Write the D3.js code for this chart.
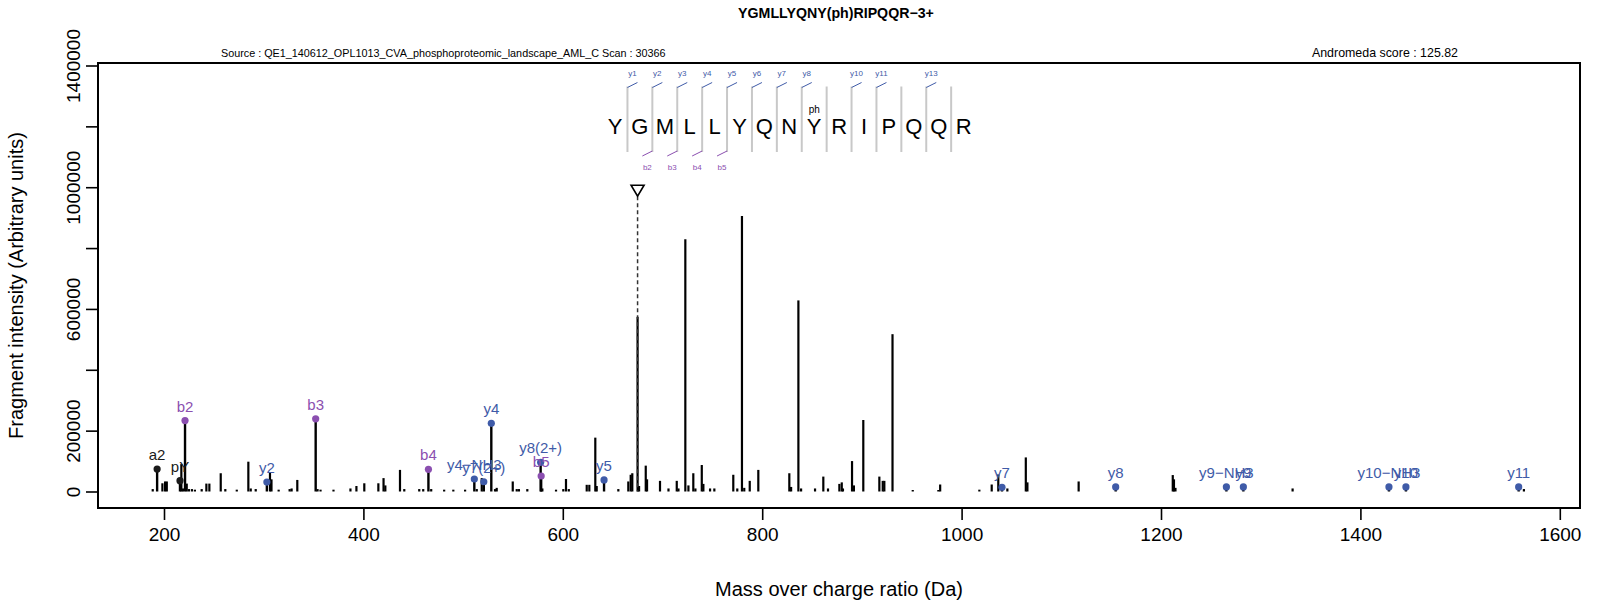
<!DOCTYPE html>
<html lang="en">
<head>
    <meta charset="UTF-8">
    <title>Spectrum</title>
    <script src="https://cdn.jsdelivr.net/npm/d3@7"></script>
    <style>
        body { margin: 0; background: #fff; }
        svg { font-family: "Liberation Sans", Arial, sans-serif; }
    </style>
</head>
<body>
<svg width="1599" height="609"></svg>
<script>
    // peaks: m/z and intensity
    var peakMz = [188.7, 198.4, 201.1, 202.8, 217.4, 219.0, 222.8, 225, 228, 231, 237.8, 242.5, 245.5,
        256.9, 261.5, 273, 284.6, 287, 292, 306.3, 307.8, 315, 326, 328, 333.7, 354, 357, 370, 387, 393,
        400.9, 415, 420.2, 422, 436.7, 441, 456, 460, 468, 481, 490.2, 502, 513.7, 518.7, 532, 533.7,
        549.8, 553.8, 556, 564.4, 579.5, 593.2, 600.5, 603.2, 606, 624, 626.6, 632.6, 634, 655.7, 665.7,
        668.1, 669.7, 675.0, 676.5, 683.2, 684.5, 697.5, 706, 714.3, 716, 722.9, 726, 730.9, 733, 739.4,
        741, 747.7, 752, 771, 775, 779.7, 782, 787.5, 796.1, 827.2, 829, 836.3, 839, 853, 861.3, 866,
        877.4, 879.8, 881, 890.1, 892, 901.4, 917.5, 920.9, 922.5, 930.7, 951, 976.7, 978.5, 1017.8,
        1030.2, 1036.8, 1045.9, 1064.4, 1066, 1117.4, 1211.8, 1213, 1214.5, 1332, 1564];
    var peakInt = [8000, 27000, 33000, 33000, 90000, 10000, 26000, 8000, 8000, 6000, 8000, 26000, 26000,
        60000, 8000, 6000, 98000, 10000, 8000, 63000, 40000, 6000, 8000, 10000, 38000, 8000, 6000, 6000, 10000, 18000,
        27000, 27000, 44000, 20000, 71000, 8000, 8000, 8000, 8000, 6000, 6000, 6000, 8000, 44000, 8000, 12000,
        33000, 8000, 8000, 8000, 10000, 6000, 8000, 41000, 8000, 22000, 22000, 177000, 18000, 8000, 33000,
        55000, 60000, 574000, 18000, 85000, 40000, 35000, 10000, 35000, 10000, 829000, 20000, 60000, 10000, 87000,
        25000, 10000, 10000, 55000, 10000, 905000, 12000, 35000, 71000, 60000, 15000, 628000, 10000, 10000, 49000, 10000,
        25000, 30000, 10000, 100000, 20000, 235000, 49000, 35000, 35000, 517000, 5000, 5000, 23000, 6000,
        23000, 56000, 10000, 112000, 30000, 33000, 54000, 40000, 12000, 10000, 8000];

    // annotated fragment ions
    var ionNames = ["a2", "pY", "b2", "y2", "b3", "b4", "y4\u2212NH3", "y7(2+)", "y4", "y8(2+)", "b5", "y5",
        "y7", "y8", "y9\u2212NH3", "y9", "y10\u2212NH3", "y10", "y11"];
    var ionMz = [193.10, 216.04, 221.09, 303.18, 352.13, 465.22, 511.26, 520.75, 528.29, 577.78, 578.30, 641.37,
        1040.50, 1154.55, 1265.58, 1282.60, 1428.64, 1445.66, 1558.75];
    var ionInt = [74000, 35500, 233000, 31000, 239000, 73000, 41000, 32000, 224000, 96000, 51000, 38000,
        14000, 15000, 15000, 15000, 15000, 15000, 15000];
    var ionType = ["o", "o", "b", "y", "b", "b", "y", "y", "y", "y", "b", "y", "y", "y", "y", "y", "y", "y", "y"];

    var precursorMz = 675.0;
    var precursorMark = 990000;

    var sequence = ["Y", "G", "M", "L", "L", "Y", "Q", "N", "Y", "R", "I", "P", "Q", "Q", "R"];
    var yMarks = [1, 2, 3, 4, 5, 6, 7, 8, 10, 11, 13];   // cleavage sites carrying a y tag
    var bMarks = [2, 3, 4, 5];
    var phSite = 9;

    var xTicks = [200, 400, 600, 800, 1000, 1200, 1400, 1600];
    var yTicks = [0, 200000, 400000, 600000, 800000, 1000000, 1200000, 1400000];
    var yLabelled = [0, 200000, 600000, 1000000, 1400000];   // R drops the ones that would overlap

    var title = "YGMLLYQNY(ph)RIPQQR\u22123+";
    var source = "Source : QE1_140612_OPL1013_CVA_phosphoproteomic_landscape_AML_C  Scan : 30366";
    var score = "Andromeda score : 125.82";

    var colors = { b: "#8b4fb0", y: "#3f5ba8", o: "#1a1a1a" };

    // note: "top" is taken by window.top, so prefix these
    var boxL = 98, boxR = 1580, boxT = 63, boxB = 508;

    var x = d3.scaleLinear().domain([200, 1600]).range([164.0, 1559.8]);
    var y = d3.scaleLinear().domain([0, 1400000]).range([491.5, 65.5]);

    var svg = d3.select("svg");

    // title + header lines
    svg.append("text").attr("x", 836).attr("y", 18).attr("text-anchor", "middle")
        .attr("font-size", 14.2).attr("font-weight", "bold").text(title);
    svg.append("text").attr("x", 221).attr("y", 57).attr("font-size", 10.8).text(source);
    svg.append("text").attr("x", 1458).attr("y", 57).attr("text-anchor", "end")
        .attr("font-size", 12.4).text(score);

    // peaks
    var peaks = peakMz.map(function(d, i) { return [d, peakInt[i]]; });
    svg.append("g").selectAll("line")
        .data(peaks)
        .join("line")
        .attr("x1", function(d) { return x(d[0]); })
        .attr("x2", function(d) { return x(d[0]); })
        .attr("y1", y(0))
        .attr("y2", function(d) { return y(d[1]); })
        .attr("stroke", "#000")
        .attr("stroke-width", 2.2);

    // precursor
    svg.append("line")
        .attr("x1", x(precursorMz)).attr("x2", x(precursorMz))
        .attr("y1", y(precursorMark) + 6).attr("y2", y(0))
        .attr("stroke", "#333").attr("stroke-width", 1.5).attr("stroke-dasharray", "4,3");
    var px = x(precursorMz), py = y(precursorMark);
    svg.append("path")
        .attr("d", "M" + (px - 6.5) + "," + (py - 5) + "L" + (px + 6.5) + "," + (py - 5) + "L" + px + "," + (py + 6) + "Z")
        .attr("fill", "#fff").attr("stroke", "#000").attr("stroke-width", 1.6);

    // annotated ions
    var ions = ionNames.map(function(d, i) {
        return { name: d, mz: ionMz[i], v: ionInt[i], t: ionType[i] };
    });
    var ig = svg.append("g");
    ig.selectAll("line")
        .data(ions)
        .join("line")
        .attr("x1", function(d) { return x(d.mz); })
        .attr("x2", function(d) { return x(d.mz); })
        .attr("y1", y(0))
        .attr("y2", function(d) { return y(d.v); })
        .attr("stroke", "#000")
        .attr("stroke-width", 2.4);
    ig.selectAll("circle")
        .data(ions)
        .join("circle")
        .attr("cx", function(d) { return x(d.mz); })
        .attr("cy", function(d) { return y(d.v); })
        .attr("r", 3.6)
        .attr("fill", function(d) { return colors[d.t]; });
    ig.selectAll("text")
        .data(ions)
        .join("text")
        .attr("x", function(d) { return x(d.mz); })
        .attr("y", function(d) { return y(d.v) - 9; })
        .attr("text-anchor", "middle")
        .attr("font-size", 15)
        .attr("fill", function(d) { return colors[d.t]; })
        .text(function(d) { return d.name; });

    // peptide sequence
    var seqX0 = 615, seqStep = 24.9;
    function cutX(k) { return seqX0 + (k - 0.5) * seqStep; }
    var sg = svg.append("g");
    sg.selectAll("text.aa")
        .data(sequence)
        .join("text")
        .attr("class", "aa")
        .attr("x", function(d, i) { return seqX0 + i * seqStep; })
        .attr("y", 134)
        .attr("text-anchor", "middle")
        .attr("font-size", 22)
        .text(function(d) { return d; });
    sg.selectAll("line.cut")
        .data(d3.range(1, sequence.length))
        .join("line")
        .attr("class", "cut")
        .attr("x1", cutX).attr("x2", cutX)
        .attr("y1", 86.5).attr("y2", 152)
        .attr("stroke", "#c8c8c8").attr("stroke-width", 2);
    sg.selectAll("line.ym")
        .data(yMarks)
        .join("line")
        .attr("class", "ym")
        .attr("x1", cutX)
        .attr("x2", function(d) { return cutX(d) + 10; })
        .attr("y1", 87.5).attr("y2", 82.5)
        .attr("stroke", colors.y).attr("stroke-width", 1);
    sg.selectAll("text.yl")
        .data(yMarks)
        .join("text")
        .attr("class", "yl")
        .attr("x", function(d) { return cutX(d) + 5; })
        .attr("y", 76)
        .attr("text-anchor", "middle")
        .attr("font-size", 8)
        .attr("fill", colors.y)
        .text(function(d) { return "y" + d; });
    sg.selectAll("line.bm")
        .data(bMarks)
        .join("line")
        .attr("class", "bm")
        .attr("x1", cutX)
        .attr("x2", function(d) { return cutX(d) - 10; })
        .attr("y1", 151).attr("y2", 156)
        .attr("stroke", colors.b).attr("stroke-width", 1);
    sg.selectAll("text.bl")
        .data(bMarks)
        .join("text")
        .attr("class", "bl")
        .attr("x", function(d) { return cutX(d) - 5; })
        .attr("y", 169.5)
        .attr("text-anchor", "middle")
        .attr("font-size", 8)
        .attr("fill", colors.b)
        .text(function(d) { return "b" + d; });
    sg.append("text")
        .attr("x", seqX0 + (phSite - 1) * seqStep).attr("y", 112.5)
        .attr("text-anchor", "middle").attr("font-size", 10).text("ph");

    // axes
    var xAxis = d3.axisBottom(x).tickValues(xTicks).tickSize(12).tickPadding(8).tickFormat(d3.format("d"));
    var gx = svg.append("g").attr("transform", "translate(0," + boxB + ")").call(xAxis);
    gx.select(".domain").remove();
    gx.selectAll("line").attr("stroke-width", 1.6);
    gx.selectAll("text").attr("font-size", 19).attr("font-family", "Liberation Sans, Arial, sans-serif").attr("fill", "#000");

    var yAxis = d3.axisLeft(y).tickValues(yTicks).tickSize(12)
        .tickFormat(function(d) { return yLabelled.indexOf(d) >= 0 ? d3.format("d")(d) : ""; });
    var gy = svg.append("g").attr("transform", "translate(" + boxL + ",0)").call(yAxis);
    gy.select(".domain").remove();
    gy.selectAll("line").attr("stroke-width", 1.6);
    gy.selectAll("text")
        .attr("font-size", 19).attr("font-family", "Liberation Sans, Arial, sans-serif").attr("fill", "#000")
        .attr("text-anchor", "middle").attr("dy", null).attr("x", null)
        .attr("transform", "translate(-25,0) rotate(-90)")
        .attr("dominant-baseline", "central");

    svg.append("rect")
        .attr("x", boxL).attr("y", boxT)
        .attr("width", boxR - boxL).attr("height", boxB - boxT)
        .attr("fill", "none").attr("stroke", "#000").attr("stroke-width", 2);

    svg.append("text").attr("x", (boxL + boxR) / 2).attr("y", 596)
        .attr("text-anchor", "middle").attr("font-size", 20)
        .text("Mass over charge ratio (Da)");
    svg.append("text")
        .attr("transform", "translate(23," + (boxT + boxB) / 2 + ") rotate(-90)")
        .attr("text-anchor", "middle").attr("font-size", 20)
        .text("Fragment intensity (Arbitrary units)");
</script>
</body>
</html>
